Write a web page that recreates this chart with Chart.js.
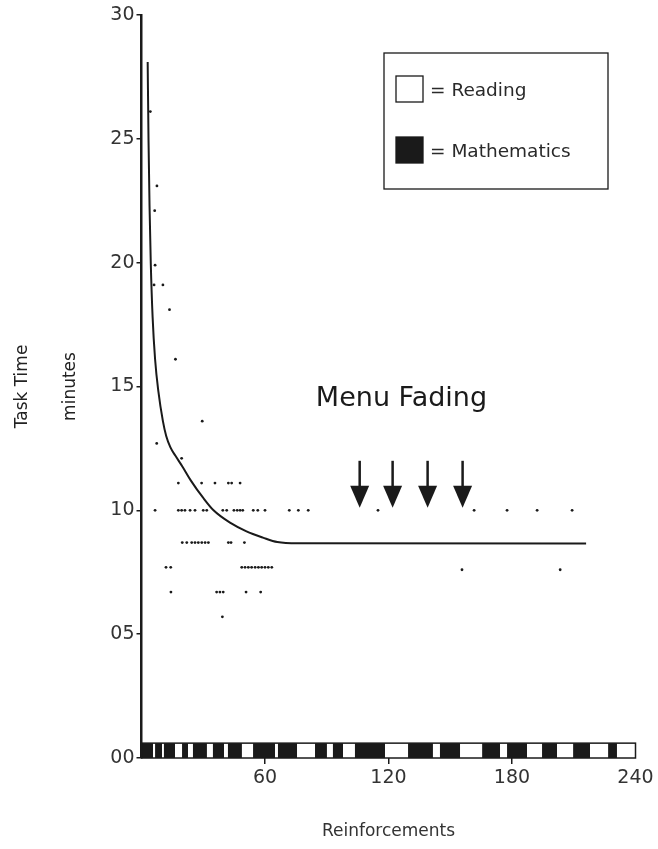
<!DOCTYPE html>
<html>
<head>
<meta charset="utf-8">
<title>Task Time vs Reinforcements</title>
<script src="https://cdn.jsdelivr.net/npm/chart.js@4.4.1/dist/chart.umd.min.js"></script>
<style>
    html, body { margin: 0; padding: 0; background: #fff; }
</style>
</head>
<body>
<canvas id="task-chart" width="658" height="849"></canvas>
<script>
// fitted curve: reinforcements -> task time (minutes)
const curveX = [3, 3.4, 3.9, 4.5, 5.4, 6.6, 8.2, 10.4, 12, 14, 16.5, 20, 24, 30, 35, 43, 51, 59, 66, 76, 216];
const curveY = [28.1, 25, 22.3, 20, 17.8, 16.1, 14.8, 13.6, 13.0, 12.55, 12.2, 11.75, 11.2, 10.5, 10.0, 9.5, 9.15, 8.9, 8.72, 8.67, 8.66];

// observed sessions
const dotX = [
    4.3, 7.5, 6.4, 6.6, 6.1, 10.4, 13.6, 16.5, 7.4, 19.5, 29.5,
    17.9, 29.2, 35.7, 42.2, 43.8, 47.9,
    6.6, 17.9, 19.5, 21.1, 23.6, 26.0, 30.0, 31.7, 39.5, 41.4, 44.9, 46.5, 47.9, 49.2, 54.3, 56.5, 60.0, 71.8, 76.2, 81.0, 114.9, 161.6, 177.6, 192.2, 209.2,
    19.8, 22.0, 24.4, 26.0, 27.6, 29.3, 30.9, 32.5, 42.2, 43.5, 50.0,
    11.9, 14.2, 48.7, 50.3, 51.9, 53.5, 55.2, 56.8, 58.4, 60.0, 61.6, 63.3, 155.7, 203.4,
    14.3, 36.5, 38.1, 39.7, 50.8, 57.9,
    39.3
];
const dotY = [
    26.1, 23.1, 22.1, 19.9, 19.1, 19.1, 18.1, 16.1, 12.7, 12.1, 13.6,
    11.1, 11.1, 11.1, 11.1, 11.1, 11.1,
    10, 10, 10, 10, 10, 10, 10, 10, 10, 10, 10, 10, 10, 10, 10, 10, 10, 10, 10, 10, 10, 10, 10, 10, 10,
    8.7, 8.7, 8.7, 8.7, 8.7, 8.7, 8.7, 8.7, 8.7, 8.7, 8.7,
    7.7, 7.7, 7.7, 7.7, 7.7, 7.7, 7.7, 7.7, 7.7, 7.7, 7.7, 7.7, 7.6, 7.6,
    6.7, 6.7, 6.7, 6.7, 6.7, 6.7,
    5.7
];

// subject blocks along the x axis (edges in reinforcements)
const blockEdges = [0, 5.6, 6.6, 10, 10.9, 16.3, 19.7, 22.6, 25, 31.8, 34.7, 40.1, 42, 48.8, 54.2, 64.9, 66.3, 75.6, 84.3, 90.1, 93, 97.9, 103.7, 118.3, 129.5, 141.6, 145, 154.8, 165.5, 174.2, 177.6, 187.3, 194.6, 201.9, 209.7, 217.9, 226.7, 231, 240];
const blockSubjects = ["M", "R", "M", "R", "M", "R", "M", "R", "M", "R", "M", "R", "M", "R", "M", "R", "M", "R", "M", "R", "M", "R", "M", "R", "M", "R", "M", "R", "M", "R", "M", "R", "M", "R", "M", "R", "M", "R"];

const subjectNames = ["Reading", "Mathematics"];
const subjectCodes = ["R", "M"];
const subjectColors = ["#ffffff", "#1a1a1a"];

// menu fading steps
const fadingSteps = [106, 122, 139, 156];

const xTicks = [0, 60, 120, 180, 240];
const yTicks = [0, 5, 10, 15, 20, 25, 30];

const ink = "#1a1a1a";
const labelFont = "DejaVu Sans";

function colorFor(code) {
    return subjectColors[subjectCodes.indexOf(code)];
}

const figureExtras = {
    id: "figureExtras",
    afterDatasetsDraw(chart) {
        const { ctx, scales: { x, y } } = chart;
        ctx.save();

        // subject bar
        const barTop = y.getPixelForValue(0.6);
        const barBottom = y.getPixelForValue(0);
        blockSubjects.forEach((code, i) => {
            const x0 = x.getPixelForValue(blockEdges[i]);
            const x1 = x.getPixelForValue(blockEdges[i + 1]);
            ctx.fillStyle = colorFor(code);
            ctx.fillRect(x0, barTop, x1 - x0, barBottom - barTop);
        });
        ctx.strokeStyle = ink;
        ctx.lineWidth = 1.5;
        const bx0 = x.getPixelForValue(blockEdges[0]);
        const bx1 = x.getPixelForValue(blockEdges[blockEdges.length - 1]);
        ctx.strokeRect(bx0, barTop, bx1 - bx0, barBottom - barTop);

        // arrows
        ctx.fillStyle = ink;
        fadingSteps.forEach(step => {
            const px = x.getPixelForValue(step);
            const top = y.getPixelForValue(12);
            const tip = y.getPixelForValue(10.1);
            const headTop = tip - 22;
            ctx.lineWidth = 2.5;
            ctx.beginPath();
            ctx.moveTo(px, top);
            ctx.lineTo(px, headTop + 2);
            ctx.stroke();
            ctx.beginPath();
            ctx.moveTo(px - 9.5, headTop);
            ctx.lineTo(px + 9.5, headTop);
            ctx.lineTo(px, tip);
            ctx.closePath();
            ctx.fill();
        });

        // annotation
        ctx.fillStyle = ink;
        ctx.font = "27px " + labelFont;
        ctx.textAlign = "center";
        ctx.textBaseline = "middle";
        ctx.fillText("Menu Fading", x.getPixelForValue(126.3), y.getPixelForValue(14.5));

        // legend box
        ctx.lineWidth = 1.3;
        ctx.strokeStyle = ink;
        ctx.strokeRect(384, 53, 224, 136);
        ctx.font = "18.5px " + labelFont;
        ctx.textAlign = "left";
        subjectNames.forEach((name, i) => {
            const top = 76 + i * 61;
            ctx.fillStyle = subjectColors[i];
            ctx.fillRect(396, top, 27, 26);
            ctx.strokeRect(396, top, 27, 26);
            ctx.fillStyle = "#2a2a2a";
            ctx.fillText("= " + name, 430, top + 15);
        });

        ctx.restore();
    }
};

const chart = new Chart(document.getElementById("task-chart"), {
    type: "scatter",
    data: {
        datasets: [
            {
                type: "line",
                data: curveX.map((v, i) => ({ x: v, y: curveY[i] })),
                borderColor: ink,
                borderWidth: 2,
                pointRadius: 0,
                cubicInterpolationMode: "monotone",
                fill: false
            },
            {
                data: dotX.map((v, i) => ({ x: v, y: dotY[i] })),
                backgroundColor: ink,
                borderWidth: 0,
                pointRadius: 1.4
            }
        ]
    },
    options: {
        responsive: false,
        animation: false,
        devicePixelRatio: 1,
        layout: { padding: { top: 15, right: 22.5, left: 0, bottom: 0 } },
        plugins: { legend: { display: false }, tooltip: { enabled: false } },
        scales: {
            x: {
                type: "linear",
                min: 0,
                max: 240,
                afterFit: scale => { scale.height = 91; },
                afterBuildTicks: scale => { scale.ticks = xTicks.map(v => ({ value: v })); },
                border: { display: false },
                grid: {
                    drawOnChartArea: false,
                    tickLength: 6,
                    lineWidth: 1.5,
                    color: c => (c.tick && c.tick.value > 0 && c.tick.value < 240 ? ink : "rgba(0,0,0,0)")
                },
                ticks: {
                    color: "#333",
                    font: { family: labelFont, size: 19 },
                    padding: 3,
                    maxRotation: 0,
                    autoSkip: false,
                    callback: v => (v === 0 ? "" : v)
                },
                title: {
                    display: true,
                    text: "Reinforcements",
                    color: "#333",
                    font: { family: labelFont, size: 17 },
                    padding: { top: 0, bottom: 7 }
                }
            },
            y: {
                type: "linear",
                min: 0,
                max: 30,
                afterFit: scale => { scale.width = 141.5; },
                afterBuildTicks: scale => { scale.ticks = yTicks.map(v => ({ value: v })); },
                border: { display: true, color: ink, width: 2.5 },
                grid: { drawOnChartArea: false, tickLength: 5, lineWidth: 1.5, color: ink },
                ticks: {
                    color: "#333",
                    font: { family: labelFont, size: 19 },
                    padding: 2,
                    callback: v => String(v).padStart(2, "0")
                },
                title: {
                    display: true,
                    text: ["Task Time", "minutes"],
                    color: "#222",
                    font: { family: labelFont, size: 17, lineHeight: "48px" },
                    padding: { top: -1, bottom: 0 }
                }
            }
        }
    },
    plugins: [figureExtras]
});
</script>
</body>
</html>
